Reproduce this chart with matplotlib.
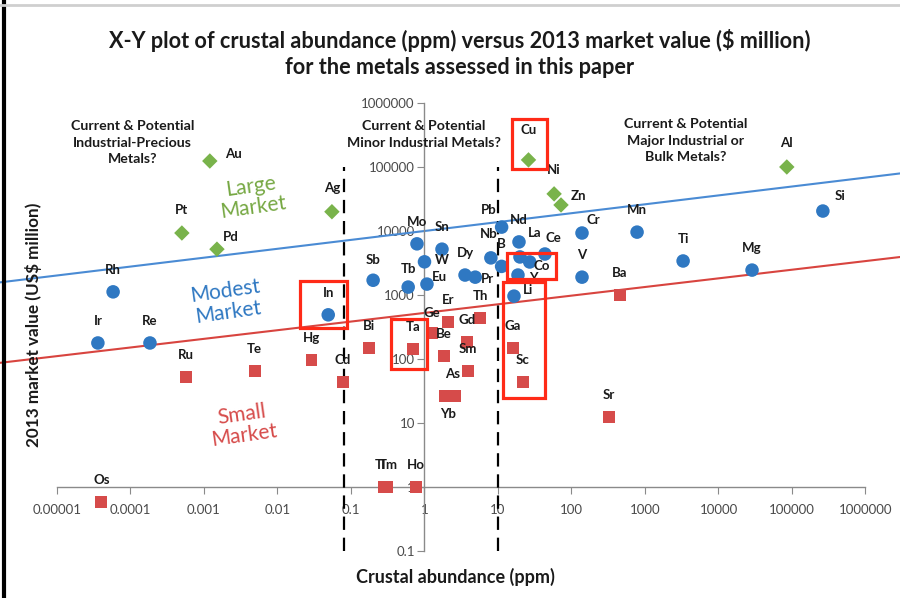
"""Crustal abundance vs 2013 market value scatter (log-log)."""

import matplotlib

matplotlib.use("Agg")
import matplotlib.pyplot as plt
import numpy as np
from matplotlib.lines import Line2D
from matplotlib.patches import Rectangle
from matplotlib.ticker import FixedLocator, FuncFormatter, NullLocator

plt.rcParams["font.family"] = ["Lato", "DejaVu Sans"]

# --- data ------------------------------------------------------------------
large_names = ["Au", "Pt", "Pd", "Ag", "Cu", "Ni", "Zn", "Al"]
large_ppm = [0.0012, 0.0005, 0.0015, 0.055, 26, 58, 72, 85000]
large_value = [124000, 9300, 5200, 20000, 129000, 38000, 25500, 100000]

modest_names = ["Rh", "Ir", "Re", "In", "Mo", "Sn", "W", "Sb", "Tb", "Eu",
                "Dy", "Pr", "Pb", "Nb", "B", "Nd", "La", "Co", "Ce", "Y",
                "Li", "Cr", "V", "Mn", "Ti", "Mg", "Si"]
modest_ppm = [5.8e-5, 3.6e-5, 1.84e-4, 0.049, 0.79, 1.73, 1.0, 0.2, 0.6, 1.08,
              3.56, 4.9, 11.2, 8.0, 11.2, 19.3, 19.9, 27, 43.5, 18.7,
              16.5, 139, 139, 780, 3300, 28600, 263000]
modest_value = [1120, 178, 178, 490, 6300, 5200, 3300, 1700, 1330, 1480,
                2050, 1900, 11500, 3800, 2800, 6750, 3930, 3280, 4370, 2050,
                960, 9300, 1900, 9600, 3400, 2450, 20500]

small_names = ["Ru", "Te", "Hg", "Cd", "Os", "Bi", "Ta", "Ge", "Er", "Th",
               "Gd", "Be", "Sm", "As", "Yb", "Tl", "Tm", "Ho", "Ga", "Sc",
               "Sr", "Ba"]
small_ppm = [5.7e-4, 0.0049, 0.029, 0.078, 4.0e-5, 0.176, 0.70, 1.26, 2.09, 5.7,
             3.79, 1.84, 3.9, 2.6, 1.9, 0.28, 0.31, 0.77, 16, 21.9,
             324, 457]
small_value = [52, 65, 97, 44, 0.58, 148, 143, 255, 378, 437,
               184, 111, 65, 26.5, 26.5, 1, 1, 1, 148, 44,
               12.4, 1000]

# boundary trend lines: log10(value) = intercept + slope * log10(ppm)
upper_intercept, upper_slope = 4.0, 0.139
lower_intercept, lower_slope = 2.72, 0.135

# abundance cut-offs (dashed lines)
cutoffs_ppm = [0.08, 10]

# highlighted elements
highlight_groups = [["Cu"], ["In"], ["Ta"], ["Co"], ["Li", "Ga", "Sc"]]

# --- styling ---------------------------------------------------------------
GREEN = "#79b34b"
MARKET_GREEN = "#76a843"
BLUE = "#2f78c2"
RED = "#d64b4a"
LINE_BLUE = "#4a8bd4"
LINE_RED = "#d8443f"
BOX_RED = "#ff2a17"
AXIS_GRAY = "#8a8a8a"
TICK_TEXT = "#4a4a4a"

# label offsets in pixels (dx, dy up), default is straight above
label_offsets = {
    "Au": (24, 7), "Pd": (14, 12), "Zn": (17, 9), "Cu": (0, 30), "Ag": (0, 24),
    "Ni": (0, 24), "Al": (0, 24), "Pt": (0, 23),
    "W": (17, 2), "Eu": (12, 7), "Pr": (12, -2), "Pb": (-13, 17),
    "Nb": (-2, 24), "La": (15, 24), "Ce": (8, 16), "Co": (12, -4),
    "Y": (15, -3), "Li": (14, 6), "Cr": (11, 13), "Si": (17, 15),
    "Sb": (0, 20), "Tb": (0, 18), "Ge": (0, 20),
    "Yb": (3, -18), "As": (-2, 22), "Tl": (-3, 22), "Tm": (1, 22),
}
# red box padding in pixels: left, right, top, bottom
box_pads = [(16, 19, 41, 9), (28, 19, 34, 13), (22, 14, 30, 20),
            (23, 26, 9, 17), (10, 22, 14, 16)]

fig = plt.figure(figsize=(9, 5.98), dpi=100)
ax = fig.add_axes([0, 0, 1, 1])
ax.set_xscale("log")
ax.set_yscale("log")
ax.set_xlim(10 ** -5.7755, 10 ** 6.4694)
ax.set_ylim(10 ** -1.734, 10 ** 7.609)
ax.patch.set_alpha(0)

for side in ("top", "right"):
    ax.spines[side].set_visible(False)
ax.spines["left"].set_position(("data", 1))
ax.spines["bottom"].set_position(("data", 1))
ax.spines["left"].set_bounds(0.1, 1e6)
ax.spines["bottom"].set_bounds(1e-5, 1e6)
for side in ("left", "bottom"):
    ax.spines[side].set_color(AXIS_GRAY)
    ax.spines[side].set_linewidth(1.0)


def _plain(v, _pos=None):
    decimals = max(0, -int(round(np.log10(v))))
    return f"{v:.{decimals}f}"


ax.xaxis.set_major_locator(FixedLocator([10.0 ** k for k in range(-5, 7)]))
ax.yaxis.set_major_locator(FixedLocator([10.0 ** k for k in range(-1, 7)]))
ax.xaxis.set_minor_locator(NullLocator())
ax.yaxis.set_minor_locator(NullLocator())
ax.xaxis.set_major_formatter(FuncFormatter(_plain))
ax.yaxis.set_major_formatter(FuncFormatter(_plain))
ax.tick_params(axis="x", direction="out", length=5, color=AXIS_GRAY,
               labelsize=9.5, labelcolor=TICK_TEXT, pad=7)
ax.tick_params(axis="y", direction="out", length=5, color=AXIS_GRAY,
               labelsize=9.5, labelcolor=TICK_TEXT, pad=2)

# trend lines across the full width
xs = np.logspace(-5.8, 6.5, 50)
ax.plot(xs, 10 ** (upper_intercept + upper_slope * np.log10(xs)),
        color=LINE_BLUE, lw=1.5, zorder=2)
ax.plot(xs, 10 ** (lower_intercept + lower_slope * np.log10(xs)),
        color=LINE_RED, lw=1.5, zorder=2)

for c in cutoffs_ppm:
    ax.plot([c, c], [0.1, 1e5], color="black", lw=1.6,
            dashes=(6, 3.5), zorder=3)

ax.scatter(large_ppm, large_value, marker="D", s=62, color=GREEN,
           edgecolors="none", zorder=4)
ax.scatter(modest_ppm, modest_value, marker="o", s=95, color=BLUE,
           edgecolors="none", zorder=4)
ax.scatter(small_ppm, small_value, marker="s", s=72, color=RED,
           edgecolors="none", zorder=4)

positions = {}
for names, xv, yv in ((large_names, large_ppm, large_value),
                      (modest_names, modest_ppm, modest_value),
                      (small_names, small_ppm, small_value)):
    for name, x, y in zip(names, xv, yv):
        positions[name] = (x, y)
        dx, dy = label_offsets.get(name, (0, 22))
        ax.annotate(name, (x, y), xytext=(dx, dy), textcoords="offset pixels",
                    ha="center", va="center", fontsize=9.5,
                    fontweight="bold", color="#1a1a1a", zorder=5)

# red highlight boxes
fig.canvas.draw()
for group, (pl, pr, pt, pb) in zip(highlight_groups, box_pads):
    pts = ax.transData.transform([positions[n] for n in group])
    x0, y0 = pts[:, 0].min() - pl, pts[:, 1].min() - pb
    x1, y1 = pts[:, 0].max() + pr, pts[:, 1].max() + pt
    (dx0, dy0), (dx1, dy1) = ax.transData.inverted().transform([(x0, y0), (x1, y1)])
    ax.add_patch(Rectangle((dx0, dy0), dx1 - dx0, dy1 - dy0, fill=False,
                           edgecolor=BOX_RED, lw=2.3, zorder=6))

# region texts
region_kw = dict(ha="center", va="center", fontsize=10.2, fontweight="bold",
                 color="#1a1a1a", linespacing=1.45)
fig.text(0.147, 0.761, "Current & Potential\nIndustrial-Precious\nMetals?", **region_kw)
fig.text(0.471, 0.775, "Current & Potential\nMinor Industrial Metals?", **region_kw)
fig.text(0.762, 0.765, "Current & Potential\nMajor Industrial or\nBulk Metals?", **region_kw)

market_kw = dict(ha="center", va="center", fontsize=15, rotation=8,
                 linespacing=1.1)
fig.text(0.280, 0.6706, "Large\nMarket", color=MARKET_GREEN, **market_kw)
fig.text(0.252, 0.495, "Modest\nMarket", color=BLUE, **market_kw)
fig.text(0.270, 0.289, "Small\nMarket", color=RED, **market_kw)

fig.text(0.511, 0.911,
         "X-Y plot of crustal abundance (ppm) versus 2013 market value ($ million)\n"
         "for the metals assessed in this paper",
         ha="center", va="center", fontsize=15.6, fontweight="bold",
         color="#1a1a1a", linespacing=1.3)
fig.text(0.506, 0.035, "Crustal abundance (ppm)", ha="center", va="center",
         fontsize=13, fontweight="bold", color="#1a1a1a")
fig.text(0.037, 0.4565, "2013 market value (US$ million)", ha="center",
         va="center", rotation=90, fontsize=12.3, fontweight="bold",
         color="#1a1a1a")

# frame remnants of the original screenshot
fig.add_artist(Line2D([0.0045, 0.0045], [0, 1], lw=3, color="black",
                      transform=fig.transFigure))
fig.add_artist(Line2D([0, 1], [0.991, 0.991], lw=2, color="#cfcfcf",
                      transform=fig.transFigure))

fig.savefig("out.png", dpi=100, facecolor="white")
